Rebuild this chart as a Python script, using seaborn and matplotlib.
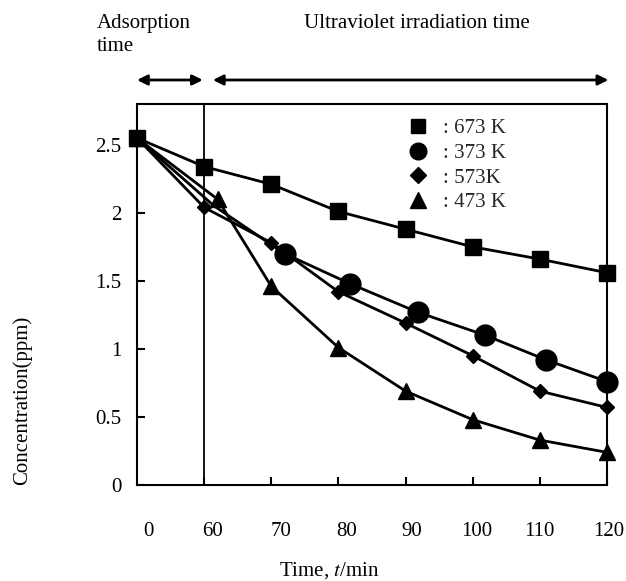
import numpy as np
import pandas as pd
import matplotlib
matplotlib.use("Agg")
import matplotlib.pyplot as plt
import matplotlib.transforms as mtrans
from matplotlib.lines import Line2D
import seaborn as sns

sns.set_theme(style="white")
plt.rcParams["font.family"] = ["Liberation Serif", "DejaVu Serif"]
plt.rcParams["mathtext.fontset"] = "stix"

# ---------------- data ----------------
tick_times = [0, 60, 70, 80, 90, 100, 110, 120]
tick_labels = ["0", "60", "70", "80", "90", "100", "110", "120"]
y_ticks = [0, 0.5, 1, 1.5, 2, 2.5]
y_tick_labels = ["0", "0.5", "1", "1.5", "2", "2.5"]

t_673 = [0, 60, 70, 80, 90, 100, 110, 120]
c_673 = [2.55, 2.34, 2.21, 2.01, 1.88, 1.75, 1.66, 1.56]
t_373 = [0, 61.5, 72, 81.7, 91.8, 101.9, 110.9, 120]
c_373 = [2.55, 2.05, 1.70, 1.48, 1.27, 1.10, 0.92, 0.76]
t_573 = [0, 60, 70, 80, 90, 100, 110, 120]
c_573 = [2.55, 2.04, 1.78, 1.42, 1.19, 0.95, 0.69, 0.57]
t_473 = [0, 62, 70, 80, 90, 100, 110, 120]
c_473 = [2.55, 2.10, 1.46, 1.01, 0.69, 0.48, 0.33, 0.24]

series_labels = [": 673 K", ": 373 K", ": 573K", ": 473 K"]

FS = 15


def pos(t):
    t = np.asarray(t, dtype=float)
    return np.where(t <= 60, t / 60.0, 1.0 + (t - 60.0) / 10.0)


fig = plt.figure(figsize=(6.26, 5.81), dpi=100)
ax = fig.add_axes([137 / 626, 1 - 485 / 581, 470 / 626, 381 / 581])

styles = {
    ": 573K": dict(marker="D", markersize=7.5),
    ": 373 K": dict(marker="o", markersize=15, markevery=[2, 3, 4, 5, 6, 7]),
    ": 473 K": dict(marker="^", markersize=12),
    ": 673 K": dict(marker="s", markersize=11.5),
}
data = {
    ": 673 K": (t_673, c_673),
    ": 373 K": (t_373, c_373),
    ": 573K": (t_573, c_573),
    ": 473 K": (t_473, c_473),
}
for lab in [": 573K", ": 373 K", ": 473 K", ": 673 K"]:
    t, c = data[lab]
    df = pd.DataFrame({"x": pos(t), "y": c})
    sns.lineplot(data=df, x="x", y="y", ax=ax, color="black", linewidth=2.0,
                 sort=False, estimator=None, markeredgecolor="black",
                 markerfacecolor="black", markeredgewidth=1, clip_on=False,
                 **styles[lab])

# vertical separator at 60 min
ax.axvline(pos(60), color="black", linewidth=1.3)

ax.set_xlim(0, 7)
ax.set_ylim(0, 2.80)

ax.set_xticks(pos(tick_times))
ax.set_xticklabels(tick_labels, fontsize=FS)
ax.set_yticks(y_ticks)
ax.set_yticklabels(y_tick_labels, fontsize=FS)
ax.tick_params(axis="x", direction="in", length=6, width=1.5, pad=27,
               colors="black", bottom=True, top=False)
ax.tick_params(axis="y", direction="in", length=6, width=1.5, pad=11,
               colors="black", left=True, right=False)
ax.xaxis.get_major_ticks()[0].tick1line.set_visible(False)

# small horizontal shifts of x tick labels as in the original
offsets_px = [11, 8, 10, 8, 6, 4, 0, 2]
for lbl, dx in zip(ax.get_xticklabels(), offsets_px):
    lbl.set_transform(lbl.get_transform() +
                      mtrans.ScaledTranslation(dx / 100, 0, fig.dpi_scale_trans))

for s in ax.spines.values():
    s.set_color("black")
    s.set_linewidth(1.5)

ax.set_xlabel("Time, $t$/min", fontsize=FS, color="black", va="center")
ax.xaxis.set_label_coords(0.409, -0.225)
ax.set_ylabel("Concentration(ppm)", fontsize=FS, color="black",
              va="center", ha="center")
ax.yaxis.set_label_coords(-0.245, 0.223)

# legend
handles = [
    Line2D([], [], color="black", marker="s", linestyle="none", markersize=10.5),
    Line2D([], [], color="black", marker="o", linestyle="none", markersize=12),
    Line2D([], [], color="black", marker="D", linestyle="none", markersize=8),
    Line2D([], [], color="black", marker="^", linestyle="none", markersize=11),
]
ax.legend(handles, series_labels, loc="upper left",
          bbox_to_anchor=(0.577, 0.962), frameon=False, fontsize=FS,
          handlelength=0.93, handletextpad=0.75, labelspacing=0.25,
          borderpad=0, borderaxespad=0)

# arrows above plot
xt = ax.get_xaxis_transform()
arrow_kw = dict(arrowstyle="<|-|>", color="black", lw=2.0,
                mutation_scale=15, shrinkA=0, shrinkB=0)
ax.annotate("", xy=(0.98, 1.063), xytext=(0.0, 1.063), xycoords=xt,
            textcoords=xt, arrowprops=arrow_kw, annotation_clip=False)
ax.annotate("", xy=(7.02, 1.063), xytext=(1.13, 1.063), xycoords=xt,
            textcoords=xt, arrowprops=arrow_kw, annotation_clip=False)

fig.text(97 / 626, 1 - 14 / 581, "Adsorption\ntime", ha="left", va="top",
         fontsize=FS, linespacing=1.3, color="black")
fig.text(417 / 626, 1 - 14 / 581, "Ultraviolet irradiation time", ha="center",
         va="top", fontsize=FS, color="black")

fig.savefig("out.png", dpi=100, facecolor="white")
